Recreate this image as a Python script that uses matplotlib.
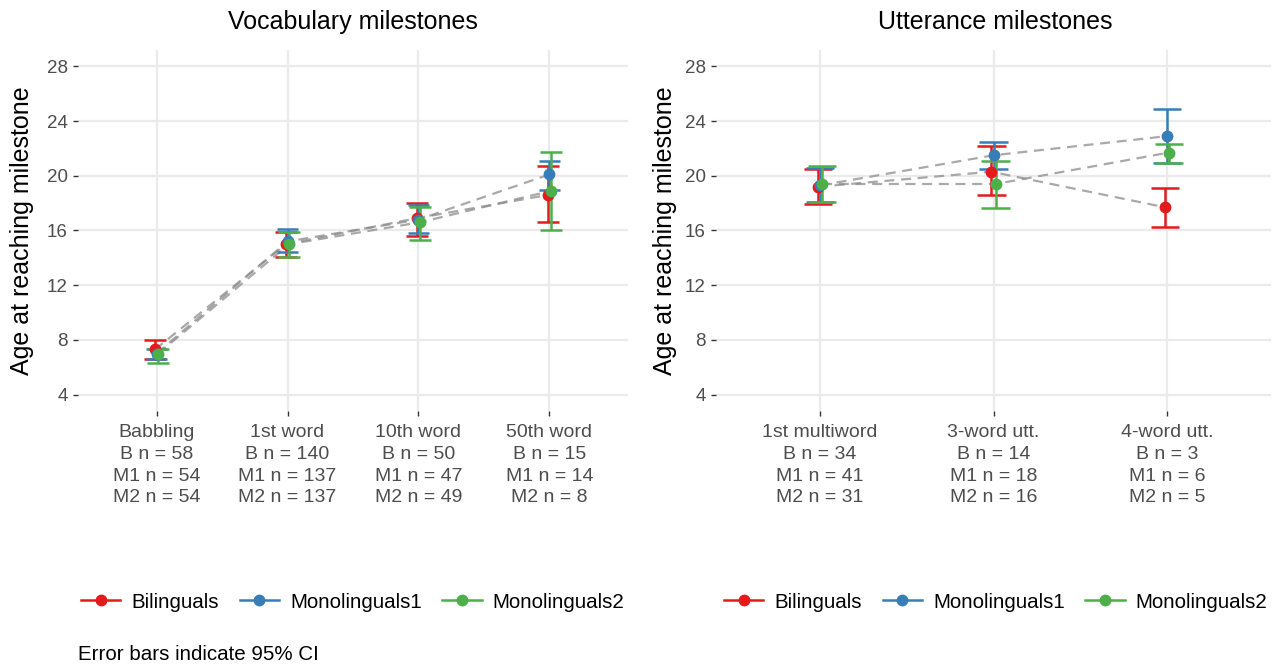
import matplotlib
matplotlib.use("Agg")
import matplotlib.pyplot as plt
from matplotlib.lines import Line2D
import numpy as np

plt.rcParams['font.family'] = ['Liberation Sans', 'DejaVu Sans']

groups = ["Bilinguals", "Monolinguals1", "Monolinguals2"]
colors = ["#E41A1C", "#377EB8", "#4DAF4A"]

# Vocabulary milestones
vocab_cats = ["Babbling", "1st word", "10th word", "50th word"]
vocab_n_B = [58, 140, 50, 15]
vocab_n_M1 = [54, 137, 47, 14]
vocab_n_M2 = [54, 137, 49, 8]
vocab_mean_B = [7.3, 15.0, 16.9, 18.6]
vocab_lo_B = [6.6, 14.05, 15.6, 16.6]
vocab_hi_B = [8.0, 15.9, 18.0, 20.75]
vocab_mean_M1 = [7.0, 15.2, 16.8, 20.1]
vocab_lo_M1 = [6.6, 14.4, 15.8, 18.95]
vocab_hi_M1 = [7.3, 16.1, 17.9, 21.1]
vocab_mean_M2 = [7.0, 15.0, 16.6, 18.9]
vocab_lo_M2 = [6.3, 14.05, 15.3, 16.05]
vocab_hi_M2 = [7.3, 15.9, 17.7, 21.75]

# Utterance milestones
utt_cats = ["1st multiword", "3-word utt.", "4-word utt."]
utt_n_B = [34, 14, 3]
utt_n_M1 = [41, 18, 6]
utt_n_M2 = [31, 16, 5]
utt_mean_B = [19.2, 20.3, 17.7]
utt_lo_B = [17.97, 18.6, 16.25]
utt_hi_B = [20.5, 22.15, 19.1]
utt_mean_M1 = [19.3, 21.5, 22.9]
utt_lo_M1 = [18.1, 20.5, 20.9]
utt_hi_M1 = [20.6, 22.45, 24.9]
utt_mean_M2 = [19.4, 19.4, 21.7]
utt_lo_M2 = [18.1, 17.65, 20.9]
utt_hi_M2 = [20.7, 21.1, 22.35]

yticks = [4, 8, 12, 16, 20, 24, 28]

W, H = 1282, 668
fig = plt.figure(figsize=(W / 100, H / 100), dpi=100)


def px_axes(l, t, r, b):
    return fig.add_axes([l / W, 1 - b / H, (r - l) / W, (b - t) / H])


def draw_panel(ax, cats, ns, means, los, his, title, title_x):
    x = np.arange(1, len(cats) + 1)
    offsets = [-0.012, 0.0, 0.012]
    capw = 0.165
    for gi in range(3):
        xs = x + offsets[gi]
        ax.plot(xs, means[gi], linestyle=(0, (4.5, 3)), color="#8c8c8c",
                alpha=0.75, lw=1.6, zorder=2)
    for gi in range(3):
        xs = x + offsets[gi]
        c = colors[gi]
        ax.vlines(xs, los[gi], his[gi], color=c, lw=1.8, zorder=3)
        ax.hlines(los[gi], xs - capw / 2, xs + capw / 2, color=c, lw=1.8, zorder=3)
        ax.hlines(his[gi], xs - capw / 2, xs + capw / 2, color=c, lw=1.8, zorder=3)
    for gi in range(3):
        xs = x + offsets[gi]
        ax.plot(xs, means[gi], 'o', color=colors[gi], ms=7.5, zorder=4)
    labels = [f"{c}\nB n = {b}\nM1 n = {m1}\nM2 n = {m2}"
              for c, b, m1, m2 in zip(cats, ns[0], ns[1], ns[2])]
    ax.set_xlim(0.4, len(cats) + 0.6)
    ax.set_ylim(2.8, 29.2)
    ax.set_xticks(x)
    ax.set_xticklabels(labels, fontsize=14, color="#4D4D4D", linespacing=1.36)
    ax.set_yticks(yticks)
    ax.set_yticklabels([str(v) for v in yticks], fontsize=13.5, color="#4D4D4D")
    ax.tick_params(axis='both', length=3.5, width=1.0, color="#333333", pad=4)
    ax.tick_params(axis='x', pad=6)
    ax.grid(True, color="#EBEBEB", lw=1.6)
    ax.set_axisbelow(True)
    for s in ax.spines.values():
        s.set_visible(False)
    ax.set_ylabel("Age at reaching milestone", fontsize=18)
    ax.yaxis.label.set_verticalalignment('center')
    fig.text(title_x / W, 1 - 22 / H, title, fontsize=18, ha='center', va='center')


ax1 = px_axes(78, 50, 628, 411)
draw_panel(ax1, vocab_cats, [vocab_n_B, vocab_n_M1, vocab_n_M2],
           [vocab_mean_B, vocab_mean_M1, vocab_mean_M2],
           [vocab_lo_B, vocab_lo_M1, vocab_lo_M2],
           [vocab_hi_B, vocab_hi_M1, vocab_hi_M2],
           "Vocabulary milestones", 353)
ax1.yaxis.set_label_coords((22 - 78) / 550, 0.5)

ax2 = px_axes(716, 50, 1271, 411)
draw_panel(ax2, utt_cats, [utt_n_B, utt_n_M1, utt_n_M2],
           [utt_mean_B, utt_mean_M1, utt_mean_M2],
           [utt_lo_B, utt_lo_M1, utt_lo_M2],
           [utt_hi_B, utt_hi_M1, utt_hi_M2],
           "Utterance milestones", 995)
ax2.yaxis.set_label_coords((665 - 716) / 555, 0.5)

handles = [Line2D([0], [0], color=c, lw=1.8, marker='o', ms=7.5) for c in colors]
for cx in (353, 996):
    fig.legend(handles, groups, loc='center', bbox_to_anchor=(cx / W, 1 - 602 / H),
               ncol=3, frameon=False, fontsize=14.8, handlelength=1.9,
               handletextpad=0.55, columnspacing=1.0)

fig.text(78 / W, 1 - 654 / H, "Error bars indicate 95% CI", fontsize=14.8,
         ha='left', va='center')

fig.savefig("out.png", dpi=100)
